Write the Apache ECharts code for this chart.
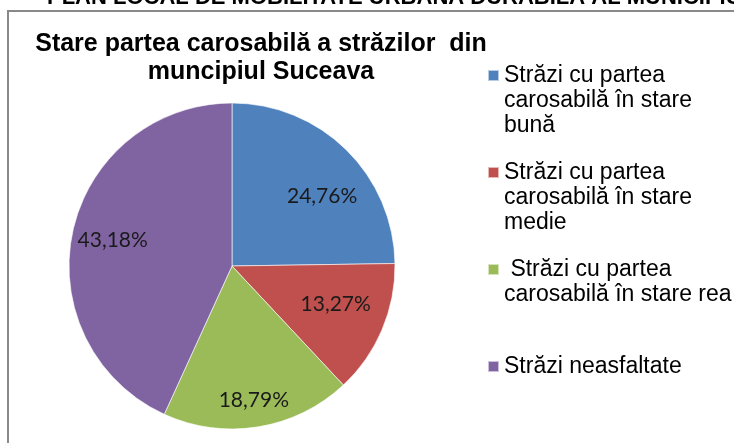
<!DOCTYPE html>
<html>
<head>
<meta charset="utf-8">
<script src="https://cdn.jsdelivr.net/npm/echarts@6/dist/echarts.min.js"></script>
<style>html,body{margin:0;padding:0;background:#fff}#c{width:734px;height:443px}</style>
</head>
<body>
<div id="c"></div>
<script>
const categories = ['Străzi cu partea carosabilă în stare bună', 'Străzi cu partea carosabilă în stare medie', 'Străzi cu partea carosabilă în stare rea', 'Străzi neasfaltate'];
const values = [24.76, 13.27, 18.79, 43.18];
const legendLabels = ['Străzi cu partea\ncarosabilă în stare\nbună', 'Străzi cu partea\ncarosabilă în stare\nmedie', ' Străzi cu partea\ncarosabilă în stare rea\n', 'Străzi neasfaltate\n\n'];
const colors = ['#4F81BD', '#C0504D', '#9BBB59', '#8064A2'];
const labelOffsets = [[8, 14], [-4, -8], [3, 19], [-5, -1]];

const chart = echarts.init(document.getElementById('c'), null, {renderer: 'canvas'});
const fmt = v => v.toFixed(2).replace('.', ',') + '%';
const R = 163;
const center = [232, 266];

const option = {
  animation: false,
  color: colors,
  title: {
    text: 'Stare partea carosabilă a străzilor  din\nmuncipiul Suceava',
    left: 256, top: 25,
    textAlign: 'center',
    textStyle: {fontFamily: "'Liberation Sans', Arial", fontWeight: 'bold', fontSize: 25, lineHeight: 28, color: '#000'}
  },
  legend: {
    orient: 'vertical',
    left: 482, top: 57, height: 420,
    itemWidth: 11, itemHeight: 75, itemGap: 20,
    icon: 'path://M0,0 M0,7L11,7L11,18L0,18Z M0,75',
    symbolKeepAspect: false,
    selectedMode: false,
    data: categories,
    formatter: name => legendLabels[categories.indexOf(name)],
    textStyle: {fontFamily: "'Liberation Sans', Arial", fontSize: 23, lineHeight: 25, color: '#000'}
  },
  graphic: [
    {type: 'rect', shape: {x: 8, y: 11, width: 740, height: 450}, style: {fill: 'none', stroke: '#898989', lineWidth: 2}, z: -1},
    {type: 'text', left: 47, top: -13, style: {text: 'PLAN LOCAL DE MOBILITATE URBANĂ DURABILĂ AL MUNICIPIULUI SUCEAVA', fontFamily: "'Liberation Sans', Arial", fontWeight: 'bold', fontSize: 22, fill: '#000'}}
  ],
  series: [
    {
      type: 'pie', center: center, radius: R, startAngle: 90, clockwise: true,
      label: {show: false}, labelLine: {show: false},
      itemStyle: {borderColor: 'rgba(255,255,255,0.6)', borderWidth: 1},
      emphasis: {disabled: true}, silent: true,
      data: categories.map((n, i) => ({name: n, value: values[i]}))
    },
    {
      type: 'pie', center: center, radius: [65, R], startAngle: 90, clockwise: true,
      itemStyle: {color: 'rgba(0,0,0,0)'},
      labelLine: {show: false},
      label: {show: true, position: 'inside', formatter: p => fmt(p.value), fontFamily: "Lato, 'Open Sans', sans-serif", fontSize: 21, color: '#1a1a1a'},
      emphasis: {disabled: true}, silent: true,
      data: categories.map((n, i) => ({name: n + ' ', value: values[i], label: {offset: labelOffsets[i]}}))
    }
  ]
};
chart.setOption(option);
</script>
</body>
</html>
